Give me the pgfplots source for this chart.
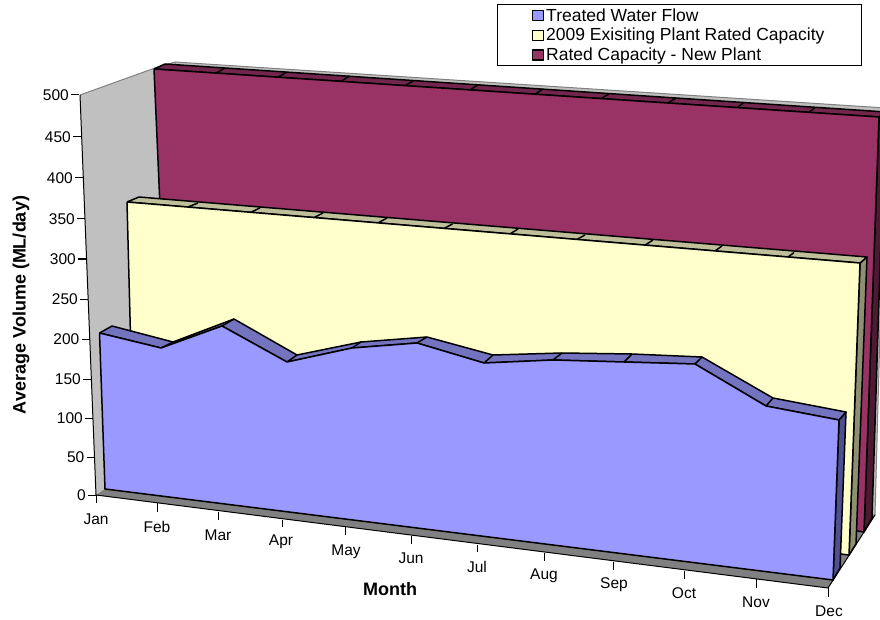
\documentclass[border=0pt]{standalone}
\usepackage{pgfplots}
\pgfplotsset{compat=1.18}
\usepackage{fontspec}
\setmainfont{Liberation Sans}
\definecolor{flow}{HTML}{9999FF}
\definecolor{flowtop}{HTML}{7373BF}
\definecolor{flowside}{HTML}{505090}
\definecolor{oldcap}{HTML}{FFFFCC}
\definecolor{oldtop}{HTML}{BFBF99}
\definecolor{oldside}{HTML}{8F8F73}
\definecolor{newcap}{HTML}{993366}
\definecolor{newtop}{HTML}{73264D}
\definecolor{newside}{HTML}{4D1A33}
\definecolor{wall}{HTML}{C0C0C0}
\definecolor{floor}{HTML}{808080}
\begin{document}
\begin{tikzpicture}
\useasboundingbox (0,0) rectangle (880pt,620pt);
% the chart is a perspective 3D area chart, so all series are given in
% picture coordinates (x right, y down)
\begin{axis}[
    at={(0,0)}, anchor=south west,
    width=880pt, height=620pt, scale only axis,
    xmin=0, xmax=880, ymin=0, ymax=620,
    y dir=reverse,
    hide axis,
    unbounded coords=jump,
    every axis plot/.append style={line width=1.5pt, line join=round},
    reverse legend,
    legend cell align=left,
    legend image code/.code={\draw[#1,line width=1.2pt] (0pt,-5pt) rectangle (11pt,5pt);},
    legend style={
        at={(axis cs:496.5,4.5)}, anchor=north west,
        draw=black, line width=1pt,
        font=\fontsize{17.5}{17.5}\selectfont,
        inner xsep=35pt, inner ysep=1.5pt,
        row sep=1.5pt,
    },
]
% walls and floor
\addplot[forget plot, fill=wall, draw=floor, line width=1pt] coordinates {(175,62) (886,108) (875,515) (175,440) (175,62)};
\addplot[forget plot, fill=wall, draw=none] coordinates {(80,95) (155,68) (175,62) (176,440) (96,495) (80,95)};
\addplot[forget plot, draw=floor, line width=1pt] coordinates {(80,95) (155,68) (175,62)};
\addplot[forget plot, fill=floor, draw=none] coordinates {(96,495) (828,588) (875,515) (176,440) (96,495)};
\addplot[forget plot, draw=black, line width=1pt] coordinates {(80,95) (96,495) (828,588) (875,515)};

% Rated Capacity - New Plant
\addplot[forget plot, fill=newside, draw=black] coordinates {(864,532) (872,518) (885,112) (879,117) (864,532)};
\addplot[forget plot, fill=newtop, draw=black] coordinates {(154,69) (165,64) (886,112) (879,117) (154,69)};
\addplot[forget plot, draw=black] coordinates {(216,73.1) (225,68) (nan,nan) (278,77.2) (287,72) (nan,nan) (341,81.4) (349.5,76) (nan,nan) (405,85.6) (413.5,81) (nan,nan) (470,89.9) (478,85) (nan,nan) (535,94.2) (543,89) (nan,nan) (601,98.6) (609,94) (nan,nan) (668,103) (676,98) (nan,nan) (737,107.6) (744,102.5) (nan,nan) (809,112.4) (815,107.5)};
\addplot[fill=newcap, draw=black] coordinates {(154,69) (879,117) (864,532) (170,435) (154,69)};
\addlegendentry{Rated Capacity - New Plant}

% 2009 Exisiting Plant Rated Capacity
\addplot[forget plot, fill=oldside, draw=black] coordinates {(849,555) (856,544) (867,257) (860,263) (849,555)};
\addplot[forget plot, fill=oldtop, draw=black] coordinates {(127,202) (139,197) (867,257) (860,263) (127,202)};
\addplot[forget plot, draw=black] coordinates {(188,207) (198,203) (nan,nan) (251,212.3) (260,207.9) (nan,nan) (314,217.6) (323,213) (nan,nan) (378,222.9) (387,218) (nan,nan) (444,228.4) (452.5,224) (nan,nan) (510,233.9) (518,229) (nan,nan) (577,239.4) (585,235) (nan,nan) (645,245.1) (653,240) (nan,nan) (715,250.9) (722,246) (nan,nan) (788,257) (794,252.5)};
\addplot[fill=oldcap, draw=black] coordinates {(127,202) (860,263) (849,555) (134,470) (127,202)};
\addlegendentry{2009 Exisiting Plant Rated Capacity\hspace{3pt}}

% Treated Water Flow
\addplot[forget plot, fill=flowside, draw=black] coordinates {(839,420) (846,412) (840,568) (833,580) (839,420)};
\addplot[forget plot, fill=flowtop, draw=black] coordinates {(99.5,333) (161,348) (222,326) (287,362) (352,348) (417,343) (484,363) (553,360) (624,362) (695,364) (766,406) (839,420)
    (846,412) (773,398) (702,357) (632,354) (562,353) (493,355) (427,337) (361,342) (297,355) (234,319) (173,342) (112,326) (99.5,333)};
\addplot[forget plot, draw=black] coordinates {(161,348) (173,342) (nan,nan) (222,326) (234,319) (nan,nan) (287,362) (297,355) (nan,nan) (352,348) (361,342) (nan,nan) (417,343) (427,337) (nan,nan) (484,363) (493,355) (nan,nan) (553,360) (562,353) (nan,nan) (624,362) (632,354) (nan,nan) (695,364) (702,357) (nan,nan) (766,406) (773,398)};
\addplot[fill=flow, draw=black] coordinates {(99.5,333) (161,348) (222,326) (287,362) (352,348) (417,343) (484,363) (553,360) (624,362) (695,364) (766,406) (839,420) (833,580) (105,489) (99.5,333)};
\addlegendentry{Treated Water Flow}

% tick marks
\addplot[forget plot, draw=black, line width=1pt] coordinates {(88,495) (96,495) (nan,nan) (86.5,457) (94.5,457) (nan,nan) (85,418) (93,418) (nan,nan) (83,379) (91,379) (nan,nan) (81.5,339) (89.5,339) (nan,nan) (80,299) (88,299) (nan,nan) (78,259) (86,259) (nan,nan) (77,219) (85,219) (nan,nan) (75,178) (83,178) (nan,nan) (73,137) (81,137) (nan,nan) (71,95) (79,95)};
\addplot[forget plot, draw=black, line width=1pt] coordinates {(96,495) (96,503) (nan,nan) (157,503) (157,512) (nan,nan) (218,512) (218,520) (nan,nan) (282,520) (282,527) (nan,nan) (345,527) (345,535) (nan,nan) (411,536) (411,544) (nan,nan) (477,545) (477,552) (nan,nan) (544,553) (544,561) (nan,nan) (613,562) (613,570) (nan,nan) (684,571) (684,579) (nan,nan) (756,579) (756,588) (nan,nan) (828,588) (828,597)};

% tick labels and axis titles
\begin{scope}[every node/.style={font=\fontsize{15.5}{15.5}\selectfont, inner sep=0pt}]
\node[anchor=east] at (axis cs:86,495) {0};
\node[anchor=east] at (axis cs:84.5,457) {50};
\node[anchor=east] at (axis cs:83,418) {100};
\node[anchor=east] at (axis cs:81,379) {150};
\node[anchor=east] at (axis cs:79.5,339) {200};
\node[anchor=east] at (axis cs:78,299) {250};
\node[anchor=east] at (axis cs:76,259) {300};
\node[anchor=east] at (axis cs:75,219) {350};
\node[anchor=east] at (axis cs:73,178) {400};
\node[anchor=east] at (axis cs:71,137) {450};
\node[anchor=east] at (axis cs:69,95) {500};
\node at (axis cs:96,519) {Jan};
\node at (axis cs:157,527) {Feb};
\node at (axis cs:218,535) {Mar};
\node at (axis cs:281,542) {Apr};
\node at (axis cs:346,552) {May};
\node at (axis cs:411,558) {Jun};
\node at (axis cs:477,567) {Jul};
\node at (axis cs:544,576) {Aug};
\node at (axis cs:614,585) {Sep};
\node at (axis cs:684,593) {Oct};
\node at (axis cs:756,602) {Nov};
\node at (axis cs:829,611) {Dec};
\node[font=\fontsize{18}{18}\selectfont\bfseries] at (axis cs:390,589) {Month};
\node[font=\fontsize{18}{18}\selectfont\bfseries, rotate=90] at (axis cs:21,305) {Average Volume (ML/day)};
\end{scope}
\end{axis}
\end{tikzpicture}
\end{document}
